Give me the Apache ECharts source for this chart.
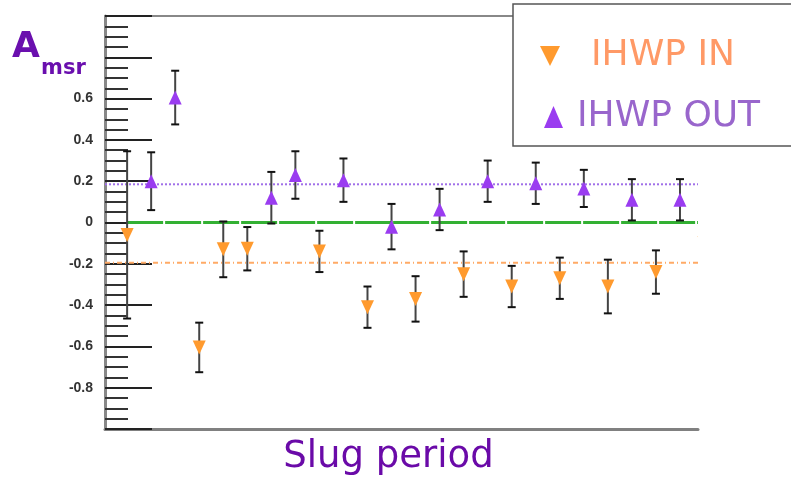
<!DOCTYPE html>
<html><head><meta charset="utf-8">
<script src="https://cdn.jsdelivr.net/npm/echarts@6/dist/echarts.min.js"></script>
<style>html,body{margin:0;padding:0;background:#fff}#c{width:791px;height:481px}</style>
</head><body><div id="c"></div>
<script>
// ---- data ----
const inSlugs   = [0, 3, 4, 5, 8, 10, 12, 14, 16, 18, 20, 22, 24];
const inValues  = [-0.06, -0.605, -0.13, -0.127, -0.14, -0.41, -0.37, -0.25, -0.31, -0.27, -0.31, -0.24, -0.10];
const inErrors  = [0.405, 0.12, 0.135, 0.105, 0.10, 0.10, 0.11, 0.11, 0.10, 0.10, 0.13, 0.105, 0.10];
const outSlugs  = [1, 2, 6, 7, 9, 11, 13, 15, 17, 19, 21, 23];
const outValues = [0.2, 0.605, 0.12, 0.23, 0.205, -0.02, 0.063, 0.2, 0.19, 0.165, 0.11, 0.11];
const outErrors = [0.14, 0.13, 0.125, 0.115, 0.105, 0.11, 0.10, 0.10, 0.10, 0.09, 0.10, 0.10];
const inMean = -0.195;
const outMean = 0.185;
const zeroLevel = 0;
const yTickLabels = ['0.6', '0.4', '0.2', '0', '-0.2', '-0.4', '-0.6', '-0.8'];
const xMin = -0.92, xMax = 23.75;

const inData = inSlugs.map((s, i) => [s, inValues[i], inErrors[i]]);
const outData = outSlugs.map((s, i) => [s, outValues[i], outErrors[i]]);

function errRender(dir, color) {
  return function (params, api) {
    const x = api.value(0), y = api.value(1), e = api.value(2);
    const c = api.coord([x, y]);
    const top = api.coord([x, y + e]);
    const bot = api.coord([x, y - e]);
    const cap = 4, w = 6.5, h = 7;
    const tri = dir < 0
      ? [[c[0] - w, c[1] - h], [c[0] + w, c[1] - h], [c[0], c[1] + h]]
      : [[c[0], c[1] - h], [c[0] + w, c[1] + h], [c[0] - w, c[1] + h]];
    return {
      type: 'group',
      children: [
        { type: 'line', shape: { x1: c[0], y1: top[1], x2: c[0], y2: bot[1] }, style: { stroke: '#444', lineWidth: 2 } },
        { type: 'line', shape: { x1: c[0] - cap, y1: top[1], x2: c[0] + cap, y2: top[1] }, style: { stroke: '#111', lineWidth: 2 } },
        { type: 'line', shape: { x1: c[0] - cap, y1: bot[1], x2: c[0] + cap, y2: bot[1] }, style: { stroke: '#111', lineWidth: 2 } },
        { type: 'polygon', shape: { points: tri }, style: { fill: color } }
      ]
    };
  };
}

const IN_COLOR = '#ff9a2e', OUT_COLOR = '#9a3cf0';
const chart = echarts.init(document.getElementById('c'), null, { renderer: 'canvas' });
chart.setOption({
  animation: false,
  backgroundColor: '#fff',
  title: [
    { text: 'A', left: 12, top: 30, padding: 0, textStyle: { fontSize: 36, fontWeight: 'bold', color: '#6a0fae', fontFamily: 'DejaVu Sans' } },
    { text: 'msr', left: 41, top: 58, padding: 0, textStyle: { fontSize: 21, fontWeight: 'bold', color: '#6a0fae', fontFamily: 'DejaVu Sans' } }
  ],
  legend: [
    {
      left: 513, top: 4, orient: 'vertical',
      padding: [34, 90, 72, 27],
      backgroundColor: '#fff', borderColor: '#555', borderWidth: 1.5, borderRadius: 0,
      itemWidth: 22, itemHeight: 20,
      data: [{ name: 'IHWP IN', icon: 'path://M0,0 L10,0 L5,10 Z', textStyle: { color: '#ff9966' } }],
      textStyle: { fontSize: 36, fontFamily: 'DejaVu Sans', padding: [0, 0, 0, 25] },
      selectedMode: false, z: 10
    },
    {
      left: 544, top: 99, orient: 'vertical', padding: 0,
      itemWidth: 19, itemHeight: 22,
      data: [{ name: 'IHWP OUT', icon: 'triangle', textStyle: { color: '#9966cc' } }],
      textStyle: { fontSize: 36, fontFamily: 'DejaVu Sans', padding: [0, 0, 0, 9] },
      selectedMode: false, z: 11
    }
  ],
  grid: { left: 105, right: 93, top: 16, bottom: 51 },
  xAxis: [
    {
      type: 'value', min: xMin, max: xMax, position: 'bottom',
      axisLine: { show: true, onZero: false, lineStyle: { color: '#808080', width: 3 } },
      axisTick: { show: false }, axisLabel: { show: false }, splitLine: { show: false },
      name: 'Slug period', nameLocation: 'middle', nameGap: 10,
      nameTextStyle: { fontSize: 37, color: '#6a0aa8', fontFamily: 'DejaVu Sans', padding: [0, 26, 0, 0] }
    },
    {
      type: 'value', min: xMin, max: xMax, position: 'top',
      axisLine: { show: true, onZero: false, lineStyle: { color: '#888', width: 2 } },
      axisTick: { show: false }, axisLabel: { show: false }, splitLine: { show: false }
    }
  ],
  yAxis: {
    type: 'value', min: -1, max: 1, interval: 0.2, position: 'left',
    axisLine: { show: true, onZero: false, lineStyle: { color: '#888', width: 3 } },
    axisTick: { show: true, inside: true, length: 47, lineStyle: { color: '#222', width: 2 } },
    minorTick: { show: true, splitNumber: 4, length: 23, lineStyle: { color: '#333', width: 2 } },
    splitLine: { show: false },
    axisLabel: {
      margin: 12, fontSize: 14, fontWeight: 'bold', color: '#333', fontFamily: 'Liberation Sans',
      formatter: v => { const s = String(+v.toFixed(2)); return yTickLabels.includes(s) ? s : ''; }
    }
  },
  series: [
    {
      type: 'line', name: 'zero', silent: true, symbol: 'none', legendHoverLink: false,
      data: [[0, zeroLevel], [xMax, zeroLevel]],
      lineStyle: { color: '#33b033', width: 3, type: [36, 2] }, z: 1
    },
    {
      type: 'line', name: 'outMean', silent: true, symbol: 'none',
      data: [[xMin, outMean], [xMax, outMean]],
      lineStyle: { color: '#a070e8', width: 2, type: [2, 2] }, z: 1
    },
    {
      type: 'line', name: 'inMean', silent: true, symbol: 'none',
      data: [[xMin, inMean], [xMax, inMean]],
      lineStyle: { color: '#ffaa66', width: 2, type: [5, 3, 1, 3] }, z: 1
    },
    {
      type: 'custom', name: 'IHWP IN', clip: true, data: inData,
      encode: { x: 0, y: 1 }, itemStyle: { color: IN_COLOR },
      renderItem: errRender(-1, IN_COLOR), z: 3
    },
    {
      type: 'custom', name: 'IHWP OUT', clip: true, data: outData,
      encode: { x: 0, y: 1 }, itemStyle: { color: OUT_COLOR },
      renderItem: errRender(1, OUT_COLOR), z: 3
    }
  ]
});
</script>
</body></html>
